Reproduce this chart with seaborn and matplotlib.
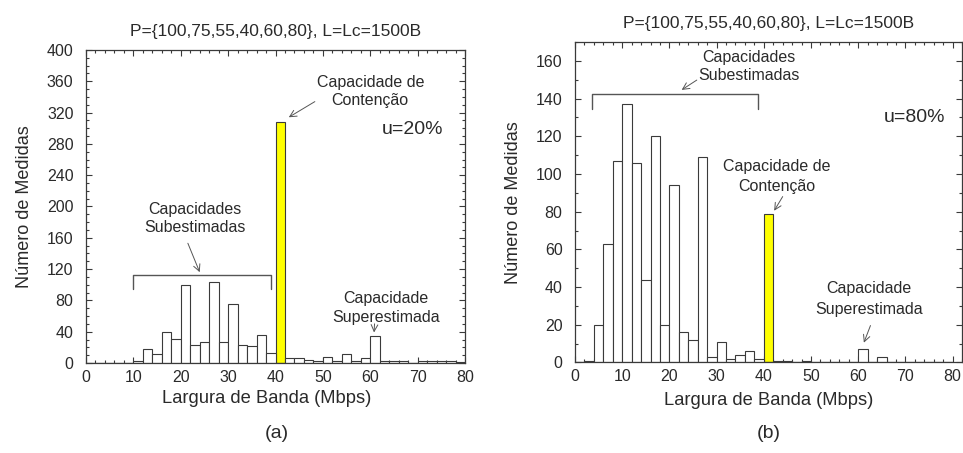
import numpy as np
import pandas as pd
import matplotlib
matplotlib.use("Agg")
import matplotlib.pyplot as plt
import seaborn as sns
from matplotlib.ticker import MultipleLocator

# ---------------- data ----------------
bin_starts = list(range(0, 80, 2))           # 2 Mbps bins: [0,2), [2,4), ... [78,80)
counts_a = [0, 0, 0, 0, 0, 2, 18, 12, 40, 31,
            100, 23, 27, 103, 27, 76, 23, 22, 36, 13,
            308, 6, 7, 4, 2, 8, 3, 11, 3, 6,
            35, 3, 3, 3, 0, 2, 3, 2, 2, 1]
counts_b = [0, 1, 20, 63, 107, 137, 106, 44, 120, 20,
            94, 16, 12, 109, 3, 11, 2, 4, 6, 2,
            79, 1, 1, 0, 1, 0, 0, 0, 0, 0,
            7, 0, 3, 0, 0, 0, 0, 0, 0, 0]
contention_bin = 40
title_text = "P={100,75,55,40,60,80}, L=Lc=1500B"
xlabel_text = "Largura de Banda (Mbps)"
ylabel_text = "Número de Medidas"
captions = ["(a)", "(b)"]
util_labels = ["u=20%", "u=80%"]

TXT = "#2a2a2a"
EDGE = "#3a3a3a"
ANN = "#555555"

sns.set_theme(style="ticks")
plt.rcParams["font.family"] = ["Liberation Sans", "DejaVu Sans"]
plt.rcParams["text.color"] = TXT
plt.rcParams["axes.labelcolor"] = TXT
plt.rcParams["xtick.color"] = EDGE
plt.rcParams["ytick.color"] = EDGE
plt.rcParams["xtick.labelcolor"] = TXT
plt.rcParams["ytick.labelcolor"] = TXT

fig = plt.figure(figsize=(9.63, 4.53), dpi=100)
ax_a = fig.add_axes([0.0893, 0.1987, 0.3936, 0.691])
ax_b = fig.add_axes([0.5971, 0.1998, 0.4019, 0.7075])


def draw(ax, counts, xmax, ymax, ymajor, yminor):
    df = pd.DataFrame({
        "x": np.array(bin_starts, dtype=float) + 1.0,
        "w": np.array(counts, dtype=float),
        "kind": ["cont" if b == contention_bin else "other" for b in bin_starts],
    })
    sns.histplot(data=df, x="x", weights="w", hue="kind",
                 hue_order=["other", "cont"],
                 binwidth=2, binrange=(0, 80),
                 palette={"other": "white", "cont": "#ffff00"},
                 multiple="layer", alpha=1, edgecolor=EDGE, linewidth=0.8,
                 legend=False, ax=ax)
    ax.set_xlim(0, xmax)
    ax.set_ylim(0, ymax)
    ax.xaxis.set_major_locator(MultipleLocator(10))
    ax.xaxis.set_minor_locator(MultipleLocator(2))
    ax.yaxis.set_major_locator(MultipleLocator(ymajor))
    ax.yaxis.set_minor_locator(MultipleLocator(yminor))
    ax.tick_params(which="both", direction="in", top=True, right=True,
                   width=0.8, labelsize=11.5)
    ax.tick_params(which="major", length=4)
    ax.tick_params(which="minor", length=2.5)
    ax.tick_params(axis="y", pad=9)
    ax.tick_params(axis="x", pad=5)
    for s in ax.spines.values():
        s.set_visible(True)
        s.set_color(EDGE)
        s.set_linewidth(0.9)
    ax.set_xlabel(xlabel_text, fontsize=13.2, labelpad=5.5)
    ax.set_ylabel(ylabel_text, fontsize=13, labelpad=10)
    ax.set_title(title_text, fontsize=12.5, pad=10, color=TXT)
    ax.grid(False)


draw(ax_a, counts_a, 80, 400, 40, 10)
draw(ax_b, counts_b, 82, 170, 20, 10)
ax_a.xaxis.set_label_coords(0.476, -0.085)
ax_a.xaxis.label.set_va("top")

arrow = dict(arrowstyle="->", color=ANN, lw=0.7, shrinkA=0, shrinkB=0)
fs = 11.5

# ---- panel (a) annotations ----
ax_a.text(60, 359, "Capacidade de", ha="center", va="center", fontsize=fs)
ax_a.text(60, 335, "Contenção", ha="center", va="center", fontsize=fs)
ax_a.annotate("", xy=(42.8, 314), xytext=(48.3, 334), arrowprops=arrow)
ax_a.text(69, 298, util_labels[0], ha="center", va="center", fontsize=14)
ax_a.text(23, 196, "Capacidades", ha="center", va="center", fontsize=fs)
ax_a.text(23, 173, "Subestimadas", ha="center", va="center", fontsize=fs)
ax_a.annotate("", xy=(24, 116), xytext=(21.5, 153), arrowprops=arrow)
bracket_a_x = [10, 10, 39, 39]
bracket_a_y = [95, 112.5, 112.5, 95]
ax_a.plot(bracket_a_x, bracket_a_y, color=ANN, lw=1)
ax_a.text(63.3, 82, "Capacidade", ha="center", va="center", fontsize=fs)
ax_a.text(63.3, 58, "Superestimada", ha="center", va="center", fontsize=fs)
ax_a.annotate("", xy=(60.8, 39), xytext=(60.9, 50), arrowprops=arrow)

# ---- panel (b) annotations ----
ax_b.text(36.8, 162, "Capacidades", ha="center", va="center", fontsize=fs)
ax_b.text(36.8, 152, "Subestimadas", ha="center", va="center", fontsize=fs)
ax_b.annotate("", xy=(22.6, 144.6), xytext=(25.8, 149.8), arrowprops=arrow)
bracket_b_x = [3.7, 3.7, 38.7, 38.7]
bracket_b_y = [134.5, 142.5, 142.5, 134.5]
ax_b.plot(bracket_b_x, bracket_b_y, color=ANN, lw=1)
ax_b.text(72, 130, util_labels[1], ha="center", va="center", fontsize=14)
ax_b.text(42.7, 103.7, "Capacidade de", ha="center", va="center", fontsize=fs)
ax_b.text(42.7, 93.1, "Contenção", ha="center", va="center", fontsize=fs)
ax_b.annotate("", xy=(42.2, 80.5), xytext=(44, 88), arrowprops=arrow)
ax_b.text(62.2, 39, "Capacidade", ha="center", va="center", fontsize=fs)
ax_b.text(62.2, 28, "Superestimada", ha="center", va="center", fontsize=fs)
ax_b.annotate("", xy=(61.2, 10.5), xytext=(62.6, 19.6), arrowprops=arrow)

# captions
fig.text(277 / 963, 1 - 433 / 453, captions[0], ha="center", va="center", fontsize=14)
fig.text(768.5 / 963, 1 - 433 / 453, captions[1], ha="center", va="center", fontsize=14)

fig.savefig("out.png", dpi=100)
